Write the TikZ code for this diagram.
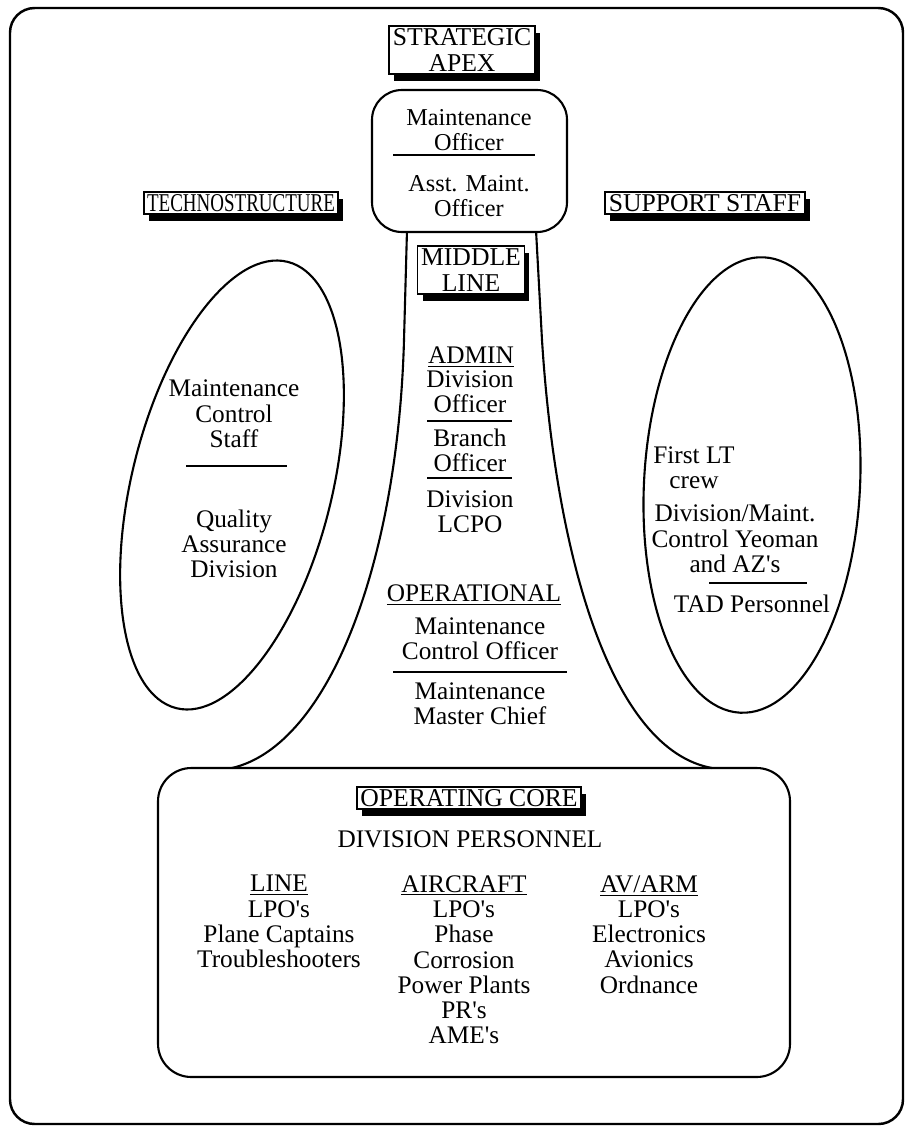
\documentclass[tikz,border=0pt]{standalone}
\usepackage{fontspec}
\setmainfont{Liberation Serif}
\usetikzlibrary{shadows}
\newcommand{\apos}{\textquotesingle}
\begin{document}
\begin{tikzpicture}[x=0.02cm,y=-0.02cm,
  body/.style={align=center, font=\fontsize{14.4}{14.4}\selectfont, inner sep=0pt},
  apextext/.style={align=center, font=\fontsize{13.8}{13.8}\selectfont, inner sep=0pt},
  tag/.style={draw, line width=1pt, fill=white, align=center,
    inner xsep=2pt, inner ysep=1.5pt, font=\fontsize{14.6}{14.6}\selectfont,
    drop shadow={opacity=1, fill=black, shadow xshift=2.8pt, shadow yshift=-4pt}},
  outline/.style={line width=1.2pt},
  rule/.style={line width=1.1pt}]

\useasboundingbox (0,0) rectangle (908,1130);

% outer frame
\draw[line width=1.4pt, rounded corners=14pt] (10,8) rectangle (903,1124);

% technostructure and support staff ellipses
\draw[outline, rotate around={-14:(232,485)}] (232,485) ellipse [x radius=100, y radius=230];
\draw[outline, rotate around={-3:(752,485)}] (752,485) ellipse [x radius=108, y radius=228];

% middle line funnel
\draw[outline] (407,230) -- (404,340) .. controls (398,560) and (330,745) .. (232,768);
\draw[outline] (536,230) -- (542,340) .. controls (556,560) and (612,750) .. (712,768);

% strategic apex box
\draw[outline, fill=white, rounded corners=17pt] (372,90) rectangle (567,232);
\node[tag] (apexlbl) at (462,50) {STRATEGIC\\APEX};
\node[apextext] (mo) at (469,130) {Maintenance\\Officer};
\draw[rule] (393,155) -- (535,155);
\node[apextext] (amo) at (469,196) {Asst. Maint.\\Officer};

% side labels
\node[tag] (techlbl) at (241,203) {\scalebox{0.74}[1]{TECHNOSTRUCTURE}};
\node[tag] (supplbl) at (705,203) {SUPPORT STAFF};
\node[tag] (midlbl) at (471,270) {MIDDLE\\LINE};

% technostructure contents
\node[body] (mcs) at (234,414) {Maintenance\\Control\\Staff};
\draw[rule] (186,466) -- (287,466);
\node[body] (qad) at (234,544) {Quality\\Assurance\\Division};

% support staff contents
\node[body] (flt) at (694,468) {First LT\\crew};
\node[body] (yeo) at (735,539) {Division/Maint.\\Control Yeoman\\and AZ\apos s};
\draw[rule] (709,583) -- (807,583);
\node[body] (tad) at (752,604) {TAD Personnel};

% middle line contents
\node[body] (admin) at (471,357) {\underline{ADMIN}};
\node[body] (divo) at (470,392) {Division\\Officer};
\draw[rule] (427,421) -- (512,421);
\node[body] (bro) at (470,450) {Branch\\Officer};
\draw[rule] (427,478) -- (512,478);
\node[body] (lcpo) at (470,512) {Division\\LCPO};
\node[body] (oper) at (474,595) {\underline{OPERATIONAL}};
\node[body] (mco) at (480,639) {Maintenance\\Control Officer};
\draw[rule] (393,672) -- (567,672);
\node[body] (mmc) at (480,704) {Maintenance\\Master Chief};

% operating core
\draw[outline, rounded corners=19pt] (158,768) rectangle (790,1077);
\node[tag] (corelbl) at (469,798) {OPERATING CORE};
\node[body] (divp) at (470,839) {DIVISION PERSONNEL};
\node[body, anchor=north] (line) at (279,875) {\underline{LINE}\\LPO\apos s\\Plane Captains\\Troubleshooters};
\node[body, anchor=north] (acft) at (464,875) {\underline{AIRCRAFT}\\LPO\apos s\\Phase\\Corrosion\\Power Plants\\PR\apos s\\AME\apos s};
\node[body, anchor=north] (avarm) at (649,875) {\underline{AV/ARM}\\LPO\apos s\\Electronics\\Avionics\\Ordnance};
\end{tikzpicture}
\end{document}
